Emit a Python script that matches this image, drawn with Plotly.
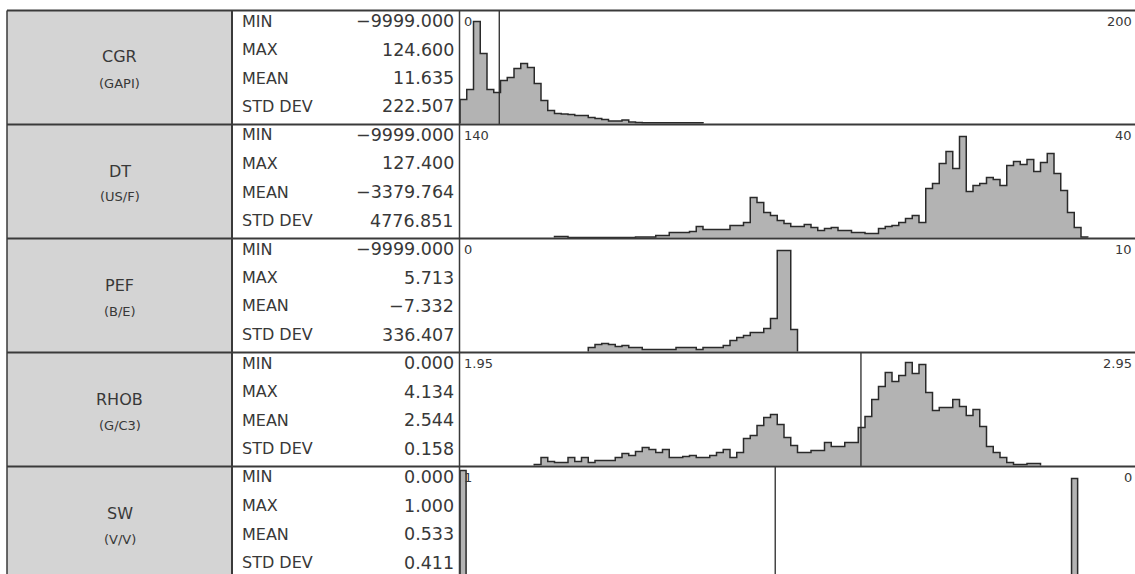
import plotly.graph_objects as go

W, H = 1135, 574

# ---------------- data ----------------
names = ["CGR", "DT", "PEF", "RHOB", "SW"]
units = ["(GAPI)", "(US/F)", "(B/E)", "(G/C3)", "(V/V)"]
stat_labels = ["MIN", "MAX", "MEAN", "STD DEV"]
mins = [-9999.0, -9999.0, -9999.0, 0.0, 0.0]
maxs = [124.6, 127.4, 5.713, 4.134, 1.0]
means = [11.635, -3379.764, -7.332, 2.544, 0.533]
stds = [222.507, 4776.851, 336.407, 0.158, 0.411]

scale_left = [0, 140, 0, 1.95, 1]
scale_right = [200, 40, 10, 2.95, 0]
scale_left_labels = ["0", "140", "0", "1.95", "1"]
scale_right_labels = ["200", "40", "10", "2.95", "0"]

# histogram bins: first bin edge, bin width (signed, along scale), counts
cgr_start, cgr_width = 0, 2
cgr_counts = [24, 34, 102, 70, 34, 31, 43, 46, 55, 60, 56, 40, 23, 13, 10, 9.5,
              9, 8, 8, 6, 5, 4, 2.5, 2.5, 3.5, 1.5, 1, 0.7, 0.7, 0.7, 0.7, 0.7,
              0.7, 0.7, 0.7, 0.7]

dt_start, dt_width = 126, -1
dt_counts = [1, 1, 0, 0, 0, 0, 0, 0, 0, 0, 0, 0, 0.5, 0.5, 0.5, 2, 2, 5, 5, 5,
             6, 11, 8, 8, 8, 8, 12, 12, 15, 40, 35, 25, 22, 17, 14, 11, 11, 13,
             10, 7, 9, 10, 7, 7, 5, 5, 4, 4, 9, 11, 12, 15, 19, 22, 15, 49, 54,
             74, 86, 69, 101, 46, 52, 54, 60, 58, 52, 72, 76, 73, 78, 66, 75, 84,
             64, 47, 25, 10, 0.5]

pef_start, pef_width = 1.9, 0.1
pef_counts = [4, 7, 8, 7, 5, 6, 4, 4, 2, 2, 2, 2, 2, 4, 4, 4, 2, 4, 4, 4, 6, 11,
              14, 16, 19, 19, 23, 33, 101, 101, 22]

rhob_start, rhob_width = 2.06, 0.01
rhob_counts = [1, 8, 4, 3, 3, 8, 4, 8, 3, 5, 5, 5, 8, 12, 10, 14, 18, 16, 13, 16,
               8, 8, 9, 10, 8, 8, 10, 13, 16, 8, 13, 27, 30, 40, 48, 51, 41, 28,
               20, 13, 13, 15, 15, 23, 19, 19, 23, 23, 38, 49, 66, 79, 93, 84, 90,
               103, 92, 101, 73, 55, 58, 58, 66, 59, 50, 56, 39, 19, 13, 8, 3, 1,
               1, 2, 2]

sw_starts = [1.0, 0.094]
sw_width = -0.009
sw_counts = [109, 101]

hist_groups = [
    [(cgr_start, cgr_width, cgr_counts)],
    [(dt_start, dt_width, dt_counts)],
    [(pef_start, pef_width, pef_counts)],
    [(rhob_start, rhob_width, rhob_counts)],
    [(sw_starts[0], sw_width, [sw_counts[0]]), (sw_starts[1], sw_width, [sw_counts[1]])],
]

# ---------------- layout geometry (pixels) ----------------
ROW_TOP0, ROW_H = 10.5, 114
X_LEFT, X_NAME_R, X_STAT_R, X_HIST_L = 7, 232, 459.5, 460

TEXT = "#383838"
FONT = "DejaVu Sans"


def px(x):
    return x / W


def py(y):
    return 1 - y / H


fig = go.Figure()
shapes = []
annotations = []
layout_axes = {}

for i, name in enumerate(names):
    top = ROW_TOP0 + ROW_H * i
    bot = top + ROW_H
    n = i + 1
    xa = "x" if n == 1 else f"x{n}"
    ya = "y" if n == 1 else f"y{n}"

    # gray name box
    shapes.append(dict(type="rect", xref="paper", yref="paper",
                       x0=px(X_LEFT), x1=px(X_NAME_R), y0=py(min(bot, H)), y1=py(top),
                       fillcolor="#d4d4d4", line=dict(width=0), layer="below"))
    annotations.append(dict(x=px((X_LEFT + X_NAME_R) / 2), y=py(top + 46.5),
                            xref="paper", yref="paper", text=name, showarrow=False,
                            xanchor="center", yanchor="middle",
                            font=dict(family=FONT, size=16, color=TEXT)))
    annotations.append(dict(x=px((X_LEFT + X_NAME_R) / 2), y=py(top + 72.5),
                            xref="paper", yref="paper", text=units[i], showarrow=False,
                            xanchor="center", yanchor="middle",
                            font=dict(family=FONT, size=13, color=TEXT)))

    # statistics
    vals = [mins[i], maxs[i], means[i], stds[i]]
    for j, lab in enumerate(stat_labels):
        yc = top + 10.5 + 28.5 * j
        annotations.append(dict(x=px(240), y=py(yc), xref="paper", yref="paper",
                                text=lab, showarrow=False, xanchor="left", yanchor="middle",
                                font=dict(family=FONT, size=16, color=TEXT)))
        annotations.append(dict(x=px(456), y=py(yc), xref="paper", yref="paper",
                                text=f"{vals[j]:.3f}".replace("-", "\u2212"), showarrow=False,
                                xanchor="right", yanchor="middle",
                                font=dict(family=FONT, size=17.5, color=TEXT)))

    # scale labels
    annotations.append(dict(x=px(462), y=py(top + 11), xref="paper", yref="paper",
                            text=scale_left_labels[i], showarrow=False,
                            xanchor="left", yanchor="middle",
                            font=dict(family=FONT, size=13, color=TEXT)))
    annotations.append(dict(x=px(1134), y=py(top + 11), xref="paper", yref="paper",
                            text=scale_right_labels[i], showarrow=False,
                            xanchor="right", yanchor="middle",
                            font=dict(family=FONT, size=13, color=TEXT)))

    # histogram axes: 1 count unit = 1 pixel
    pb = min(bot, H)
    y0 = bot - 1
    layout_axes["xaxis" if n == 1 else f"xaxis{n}"] = dict(
        domain=[px(X_HIST_L), 1], range=[scale_left[i], scale_right[i]],
        visible=False, anchor=ya, fixedrange=True)
    layout_axes["yaxis" if n == 1 else f"yaxis{n}"] = dict(
        domain=[py(pb), py(top)], range=[y0 - pb, y0 - top],
        visible=False, anchor=xa, fixedrange=True)

    for (start, width, counts) in hist_groups[i]:
        xs = [start]
        ys = [0]
        for k, c in enumerate(counts):
            xs.append(start + k * width)
            ys.append(c)
        xs.append(start + len(counts) * width)
        ys.append(0)
        fig.add_trace(go.Scatter(x=xs, y=ys, xaxis=xa, yaxis=ya, mode="lines",
                                 line=dict(shape="hv", color="#2a2a2a", width=1.5),
                                 fill="tozeroy", fillcolor="#b3b3b3",
                                 hoverinfo="skip", showlegend=False))

    # mean line if inside the scale
    lo, hi = sorted([scale_left[i], scale_right[i]])
    if lo <= means[i] <= hi:
        shapes.append(dict(type="line", xref=xa, yref="paper", x0=means[i], x1=means[i],
                           y0=py(min(bot, H)), y1=py(top),
                           line=dict(color="#2a2a2a", width=1.3)))

# grid lines
for i in range(5):
    y = ROW_TOP0 + ROW_H * i
    shapes.append(dict(type="line", xref="paper", yref="paper", x0=px(X_LEFT), x1=1,
                       y0=py(y), y1=py(y), line=dict(color="#3a3a3a", width=2)))
for x, w in [(X_LEFT, 1.5), (X_NAME_R, 2), (X_STAT_R, 1.5)]:
    shapes.append(dict(type="line", xref="paper", yref="paper", x0=px(x), x1=px(x),
                       y0=0, y1=py(ROW_TOP0), line=dict(color="#3a3a3a", width=w)))

fig.update_layout(width=W, height=H, margin=dict(l=0, r=0, t=0, b=0),
                  paper_bgcolor="white", plot_bgcolor="white",
                  shapes=shapes, annotations=annotations, showlegend=False,
                  **layout_axes)

fig.write_html("out.html", config={"displayModeBar": False},
               post_script="document.body.style.margin='0';document.body.style.overflow='hidden';")
